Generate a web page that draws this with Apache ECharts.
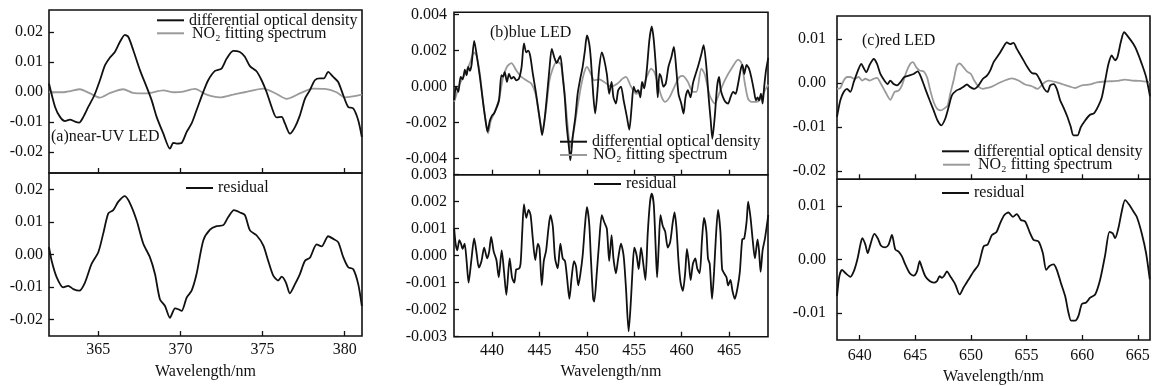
<!DOCTYPE html>
<html><head><meta charset="utf-8">
<script src="https://cdn.jsdelivr.net/npm/echarts@6/dist/echarts.min.js"></script>
<style>html,body{margin:0;padding:0;background:#fff}#c{width:1154px;height:386px}</style>
</head><body><div id="c"></div>
<script>
// ---------- DATA ([wavelength nm, value]) ----------
const aOD = [[362.0,0.0029],[362.37,-0.0049],[362.67,-0.0082],[362.97,-0.0096],[363.28,-0.0091],[363.58,-0.0098],[363.84,-0.0101],[364.09,-0.0082],[364.39,-0.0049],[364.76,-0.001],[365.1,0.004],[365.41,0.009],[365.71,0.0116],[366.01,0.0134],[366.32,0.0168],[366.62,0.0191],[366.83,0.0184],[367.13,0.014],[367.54,0.0073],[367.94,0.0018],[368.25,-0.0027],[368.55,-0.0082],[368.96,-0.0138],[369.36,-0.0188],[369.56,-0.0169],[369.77,-0.0171],[370.07,-0.0169],[370.38,-0.0132],[370.68,-0.0104],[370.98,-0.006],[371.39,0.0001],[371.69,0.004],[372.1,0.0071],[372.5,0.0079],[372.81,0.0112],[373.21,0.0138],[373.62,0.0134],[373.92,0.0118],[374.23,0.0087],[374.63,0.007],[374.94,0.004],[375.24,0.0001],[375.55,-0.0049],[375.85,-0.0084],[376.16,-0.0082],[376.36,-0.0104],[376.66,-0.0138],[376.97,-0.0116],[377.27,-0.0077],[377.58,-0.0021],[377.88,0.0007],[378.18,0.004],[378.49,0.0046],[378.73,0.0046],[378.99,0.0068],[379.3,0.0051],[379.6,0.0034],[379.91,-0.001],[380.21,-0.0049],[380.52,-0.0054],[380.82,-0.0093],[381.04,-0.0149]];
const aFit = [[362.0,0],[362.87,0],[363.3,0.0004],[363.88,0.001],[364.5,-0.0004],[365.1,-0.0018],[365.7,-0.0003],[366.52,0.001],[367.1,-0.0002],[367.94,-0.0004],[368.96,0.0006],[369.6,0.0],[370.17,0.0002],[370.88,0.0011],[371.6,-0.0008],[372.4,-0.0017],[373.2,-0.0008],[373.9,0.0],[375.04,0.0012],[375.8,-0.0004],[376.46,-0.0022],[377.3,-0.0003],[378.08,0.0012],[378.79,0.0011],[379.5,0.0],[380.01,-0.0017],[381.04,-0.0008]];
const aRes = [[362.0,0.0023],[362.16,-0.0019],[362.47,-0.007],[362.87,-0.0101],[363.17,-0.0096],[363.48,-0.0106],[363.84,-0.0111],[364.19,-0.0086],[364.59,-0.0029],[365.0,0.0007],[365.3,0.0064],[365.61,0.0126],[365.91,0.0136],[366.22,0.0162],[366.62,0.0179],[366.93,0.0157],[367.33,0.0105],[367.74,0.0033],[368.14,-0.0008],[368.45,-0.006],[368.75,-0.0137],[369.06,-0.0158],[369.36,-0.0194],[369.67,-0.0165],[369.87,-0.0168],[370.07,-0.0173],[370.38,-0.0132],[370.68,-0.0111],[370.98,-0.006],[371.39,0.0043],[371.8,0.0076],[372.2,0.0087],[372.61,0.009],[372.91,0.0115],[373.26,0.0136],[373.62,0.0129],[373.92,0.0121],[374.23,0.0074],[374.63,0.0059],[375.04,0.0028],[375.34,-0.0019],[375.65,-0.0065],[375.95,-0.008],[376.16,-0.0068],[376.42,-0.0086],[376.66,-0.0119],[376.97,-0.0091],[377.27,-0.006],[377.58,-0.0019],[377.88,-0.001],[378.29,0.0031],[378.59,0.0025],[378.99,0.0056],[379.3,0.0048],[379.6,0.0038],[379.91,-0.0008],[380.21,-0.0039],[380.52,-0.0045],[380.82,-0.0091],[381.04,-0.0158]];

const bOD = [[436.0,-0.00076],[436.19,0.0],[436.43,-0.0003],[436.68,0.00054],[436.89,0.0004],[437.13,0.00094],[437.31,0.00063],[437.48,0.0011],[437.66,0.00087],[437.83,0.0012],[438.11,0.00254],[438.36,0.0018],[438.71,0.00054],[439.06,-0.00094],[439.34,-0.002],[439.51,-0.0025],[439.76,-0.0019],[440.0,-0.0016],[440.2,-0.0015],[440.45,-0.0012],[440.73,-0.00076],[440.98,0.00063],[441.15,0.00055],[441.33,0.0008],[441.57,0.00026],[441.78,0.0007],[442.03,0.00044],[442.27,0.00054],[442.55,0.00035],[442.83,0.00044],[443.11,0.0011],[443.36,0.0024],[443.6,0.0019],[443.81,0.002],[444.02,0.0017],[444.3,0.0007],[444.58,-0.0002],[444.83,-0.0011],[445.07,-0.002],[445.28,-0.0027],[445.52,-0.0019],[445.77,-0.0006],[446.05,0.001],[446.29,0.0021],[446.57,0.0016],[446.82,0.0013],[446.99,0.0015],[447.2,0.0017],[447.45,0.00054],[447.66,-0.00057],[447.87,-0.0022],[448.15,-0.0036],[448.25,-0.0041],[448.5,-0.0028],[448.78,-0.0017],[449.02,-0.0004],[449.3,0.00045],[449.55,0.0011],[449.79,0.002],[450.0,0.00285],[450.24,0.0024],[450.42,0.0015],[450.66,-0.0004],[450.87,-0.0015],[451.12,-0.0002],[451.29,0.001],[451.57,0.0019],[451.82,0.0015],[452.1,0.0007],[452.35,-0.0004],[452.6,0.00026],[452.8,-0.0006],[453.06,-0.00094],[453.3,-0.0002],[453.59,0.0],[453.87,-0.00076],[454.22,-0.0017],[454.47,-0.0024],[454.72,-0.0011],[454.93,0.0],[455.18,-0.0003],[455.4,-0.0002],[455.64,-0.0006],[455.81,0.00026],[456.05,-0.0001],[456.31,0.0009],[456.59,0.0026],[456.84,0.00335],[457.05,0.0026],[457.3,0.0009],[457.47,-0.0006],[457.65,0.0007],[457.82,0.00055],[458.07,0.0],[458.32,0.00017],[458.6,0.0011],[458.89,0.0016],[459.17,0.0022],[459.42,0.001],[459.66,-0.0004],[459.95,-0.00094],[460.19,-0.0015],[460.4,-0.0006],[460.65,-0.0002],[460.93,-0.0006],[461.18,0.00017],[461.43,0.00063],[461.71,0.0011],[462.07,0.0018],[462.31,0.0023],[462.6,0.0011],[462.84,-0.0006],[463.06,-0.0019],[463.23,-0.0029],[463.48,-0.0017],[463.73,0.0],[463.94,0.00054],[464.12,-0.0002],[464.36,-0.0006],[464.61,-0.00085],[464.89,-0.00094],[465.14,-0.0006],[465.42,-0.0003],[465.68,-0.0004],[465.95,0.00017],[466.24,0.001],[466.41,0.0012],[466.59,0.0007],[466.84,0.0012],[467.1,0.001],[467.37,0.00044],[467.61,-0.0002],[467.83,-0.00076],[468.0,-0.0006],[468.15,-0.00076],[468.36,-0.0004],[468.53,-0.00094],[468.7,0.0],[468.89,0.0009],[469.13,0.0016]];
const bFit = [[436.0,-0.00085],[436.26,-0.0004],[436.6,0.00017],[437.13,0.0007],[437.66,0.0013],[438.08,0.0019],[438.36,0.0017],[438.71,0.0007],[439.06,-0.00094],[439.4,-0.0022],[439.58,-0.0026],[439.86,-0.0019],[440.28,-0.0014],[440.73,-0.0007],[441.15,0.0005],[441.57,0.0011],[442.03,0.0013],[442.55,0.0009],[443.08,0.00054],[443.6,0.00035],[444.13,0.00017],[444.58,-0.0004],[444.93,-0.0015],[445.28,-0.0024],[445.63,-0.0015],[446.05,0.00035],[446.4,0.001],[446.82,0.0014],[447.27,0.0012],[447.62,-0.0002],[447.97,-0.0022],[448.25,-0.0034],[448.57,-0.0026],[449.02,-0.0011],[449.37,0.0],[449.72,0.0008],[450.0,0.0011],[450.42,0.0007],[450.77,0.00035],[451.29,0.0004],[451.82,0.00026],[452.53,0.0],[453.23,0.00017],[453.76,0.00044],[454.12,0.00054],[454.65,0.0],[455.18,-0.0004],[455.71,-0.0002],[456.24,0.00044],[456.77,0.001],[457.12,0.0008],[457.47,0.00017],[457.9,-0.0006],[458.25,-0.00085],[458.71,-0.0006],[459.24,0.0],[459.77,0.00054],[460.12,0.0006],[460.65,0.00026],[461.18,-0.0003],[461.55,-0.0003],[462.07,0.001],[462.42,0.0007],[462.95,-0.0005],[463.48,-0.00094],[464.01,-0.0003],[464.54,0.00035],[465.25,0.001],[465.95,0.0015],[466.31,0.0013],[466.66,0.00017],[467.01,-0.0007],[467.37,-0.00085],[467.9,-0.00085],[468.43,-0.0006],[468.78,-0.0002],[469.13,0.0001]];
const bRes = [[436.0,0.001],[436.15,0.00045],[436.33,0.0002],[436.54,0.00058],[436.71,0.00045],[436.89,0.00025],[437.1,0.00045],[437.31,-0.0002],[437.52,-0.001],[437.8,-0.0002],[438.11,0.00064],[438.36,0.0001],[438.6,-0.00044],[438.88,-0.0002],[439.16,0.0003],[439.48,-0.0001],[439.69,0.00015],[439.9,0.0007],[440.17,0.00015],[440.45,-0.00015],[440.7,-0.0008],[441.01,0.0002],[441.26,-0.0006],[441.5,-0.00145],[441.85,-0.0001],[442.1,-0.0008],[442.34,-0.001],[442.55,-0.0005],[442.8,-0.00049],[443.0,-0.0003],[443.18,0.0009],[443.36,0.0019],[443.6,0.0014],[443.85,0.0017],[444.06,0.0015],[444.3,0.0006],[444.55,-0.00016],[444.83,0.00045],[445.0,0.00027],[445.24,-0.0011],[445.45,-0.0002],[445.7,0.0002],[445.94,0.001],[446.15,0.0015],[446.4,0.0011],[446.64,-0.0001],[446.92,-0.00047],[447.2,0.00045],[447.45,-0.0001],[447.69,-0.0002],[447.9,-0.0008],[448.15,-0.0016],[448.39,-0.0008],[448.64,-0.0002],[448.85,-0.0004],[449.09,-0.0011],[449.3,-0.0007],[449.55,0.0],[449.79,0.0011],[450.0,0.0018],[450.24,0.0012],[450.42,-0.0001],[450.66,-0.0016],[450.77,-0.0017],[451.05,-0.0006],[451.29,0.0005],[451.57,0.0015],[451.82,0.00125],[452.1,0.001],[452.35,-0.0002],[452.6,0.00076],[452.8,-0.0001],[453.06,-0.00065],[453.3,-0.0001],[453.59,0.00045],[453.87,0.0],[454.12,-0.0012],[454.4,-0.0028],[454.65,-0.0016],[454.82,-0.00047],[455.0,0.0003],[455.25,0.0],[455.46,-0.0005],[455.71,0.0003],[455.95,-0.0003],[456.17,-0.0009],[456.41,0.0008],[456.66,0.002],[456.84,0.0023],[457.05,0.0019],[457.23,0.0005],[457.4,-0.0008],[457.58,0.0004],[457.76,0.0015],[458.0,0.0011],[458.25,0.0009],[458.53,0.0003],[458.78,0.0005],[459.06,0.00125],[459.24,0.0016],[459.45,0.001],[459.66,-0.0002],[459.88,-0.001],[460.12,-0.0013],[460.37,-0.0006],[460.55,0.00025],[460.73,-0.0002],[460.94,-0.0009],[461.18,-0.0003],[461.43,-0.0001],[461.64,-0.00047],[461.89,-0.00065],[462.14,0.0006],[462.35,0.0014],[462.6,0.0009],[462.77,-0.0001],[462.95,-0.0003],[463.2,-0.0016],[463.41,-0.0006],[463.59,0.0006],[463.83,0.0017],[464.08,0.0009],[464.26,-0.0005],[464.47,-0.00065],[464.72,-0.0008],[464.89,-0.0011],[465.14,-0.0009],[465.35,-0.0013],[465.6,-0.0016],[465.88,-0.0012],[466.13,-0.0006],[466.38,0.0006],[466.59,0.00064],[466.84,0.00125],[467.01,0.002],[467.26,0.0014],[467.47,0.00064],[467.72,-0.0001],[468.0,0.0006],[468.15,0.0002],[468.32,-0.0006],[468.53,0.0002],[468.78,0.00064],[469.13,0.0015]];

const cOD = [[637.96,-0.0077],[638.26,-0.0039],[638.56,-0.002],[638.86,-0.0013],[639.16,-0.002],[639.46,0.0002],[639.91,0.0033],[640.15,0.0044],[640.35,0.0035],[640.6,0.0025],[640.9,0.0042],[641.26,0.0055],[641.56,0.0044],[641.86,0.0021],[642.22,0.0006],[642.51,-0.0002],[642.75,0.0006],[643.05,-0.0002],[643.35,-0.0005],[643.65,0.0002],[644.01,0.0014],[644.4,0.0017],[644.85,0.0021],[645.21,0.0027],[645.51,0.0014],[645.9,-0.0013],[646.29,-0.0039],[646.65,-0.0062],[647.0,-0.0085],[647.34,-0.0096],[647.69,-0.0081],[647.99,-0.0055],[648.29,-0.0028],[648.68,-0.0017],[649.04,-0.0013],[649.34,-0.0008],[649.64,-0.0003],[649.94,-0.0009],[650.3,-0.0013],[650.69,-0.0005],[651.08,0.001],[651.44,0.0017],[651.74,0.0029],[652.04,0.0048],[652.34,0.0059],[652.63,0.007],[652.93,0.0083],[653.23,0.0093],[653.53,0.0089],[653.83,0.0092],[654.13,0.0078],[654.43,0.0065],[654.73,0.0052],[655.09,0.0036],[655.48,0.0023],[655.87,0.0021],[656.23,0.0006],[656.59,-0.0013],[656.89,-0.002],[657.13,-0.0005],[657.43,-0.0002],[657.72,-0.0013],[658.02,-0.0039],[658.32,-0.0055],[658.68,-0.0077],[658.98,-0.01],[659.22,-0.0119],[659.58,-0.0119],[659.88,-0.01],[660.27,-0.0085],[660.66,-0.0073],[661.08,-0.0068],[661.47,-0.0051],[661.77,-0.0032],[662.07,0.0006],[662.37,0.0044],[662.66,0.0063],[662.96,0.0052],[663.17,0.0059],[663.47,0.0093],[663.77,0.0116],[664.16,0.0105],[664.61,0.0089],[664.91,0.0074],[665.36,0.0044],[665.75,0.0014],[666.1,-0.003]];
const cFit = [[637.96,-0.0013],[638.26,-0.0011],[638.56,0.0006],[638.86,0.0014],[639.16,0.0014],[639.52,0.001],[639.91,0.0014],[640.21,0.0006],[640.51,0.001],[640.9,0.0006],[641.26,0.001],[641.56,0.0012],[641.92,-0.0002],[642.31,-0.002],[642.75,-0.0038],[643.14,-0.002],[643.5,-0.0017],[643.8,-0.0005],[644.19,0.0025],[644.55,0.0044],[644.79,0.0048],[645.09,0.0036],[645.39,0.0029],[645.75,0.0027],[646.05,0.0014],[646.35,-0.0017],[646.65,-0.0043],[646.95,-0.0058],[647.25,-0.0062],[647.6,-0.0058],[647.9,-0.0051],[648.14,-0.0024],[648.44,0.0006],[648.74,0.004],[648.98,0.0045],[649.34,0.0036],[649.64,0.0027],[650.0,0.0021],[650.3,0.0006],[650.69,-0.0008],[651.08,-0.0013],[651.44,-0.0011],[651.89,-0.0008],[652.34,-0.0002],[652.93,0.0005],[653.68,0.0011],[654.28,0.0006],[654.88,-0.0003],[655.48,-0.0007],[655.99,-0.0013],[656.53,0.0],[656.98,0.0006],[657.72,0.0002],[658.32,-0.0003],[658.92,-0.0008],[659.37,-0.0011],[659.97,-0.0005],[660.72,-0.0003],[661.32,0.0002],[662.22,0.0004],[663.11,0.0005],[663.86,0.0008],[664.46,0.0006],[665.21,0.0005],[666.1,0.0002]];
const cRes = [[637.96,-0.0068],[638.17,-0.0031],[638.41,-0.0019],[638.71,-0.0025],[639.16,-0.0032],[639.52,-0.0019],[639.82,0.0003],[640.06,0.0028],[640.24,0.004],[640.51,0.0028],[640.72,0.0012],[640.96,0.0028],[641.32,0.0048],[641.62,0.004],[641.92,0.0026],[642.31,0.0023],[642.6,0.0028],[642.9,0.0046],[643.2,0.0019],[643.5,0.0015],[643.8,0.0006],[644.1,-0.0009],[644.49,-0.0025],[644.85,-0.003],[645.15,-0.0022],[645.39,-0.0003],[645.6,-0.0015],[645.9,-0.0031],[646.29,-0.004],[646.65,-0.0043],[646.95,-0.004],[647.19,-0.0031],[647.4,-0.0034],[647.6,-0.003],[647.84,-0.0022],[648.14,-0.0031],[648.59,-0.0046],[648.98,-0.0065],[649.34,-0.0052],[649.79,-0.0037],[650.24,-0.0022],[650.69,-0.0009],[651.14,0.0025],[651.5,0.0028],[651.89,0.0046],[652.28,0.0051],[652.63,0.0068],[652.99,0.0083],[653.38,0.0088],[653.77,0.008],[654.13,0.0085],[654.49,0.0074],[654.88,0.0071],[655.27,0.0052],[655.63,0.0037],[656.08,0.0034],[656.47,0.0012],[656.77,-0.0019],[657.07,-0.0012],[657.43,-0.0009],[657.72,-0.0019],[658.08,-0.0043],[658.47,-0.0068],[658.77,-0.0099],[659.01,-0.0114],[659.37,-0.0114],[659.67,-0.0105],[659.97,-0.0083],[660.36,-0.008],[660.72,-0.0071],[661.17,-0.0065],[661.62,-0.0037],[662.07,0.0009],[662.46,0.0052],[662.75,0.0049],[662.96,0.004],[663.26,0.0059],[663.56,0.009],[663.86,0.0111],[664.25,0.0102],[664.61,0.009],[664.91,0.008],[665.36,0.0049],[665.75,0.0012],[666.08,-0.0037]];

// tick values
const aXTicks = [365, 370, 375, 380];
const bXTicks = [440, 445, 450, 455, 460, 465];
const cXTicks = [640, 645, 650, 655, 660, 665];
const aTopYTicks = [-0.02, -0.01, 0, 0.01, 0.02];
const aBotYTicks = [-0.02, -0.01, 0, 0.01, 0.02];
const bTopYTicks = [-0.004, -0.002, 0, 0.002, 0.004];
const bBotYTicks = [-0.003, -0.002, -0.001, 0, 0.001, 0.002, 0.003];
const cTopYTicks = [-0.02, -0.01, 0, 0.01];
const cBotYTicks = [-0.01, 0, 0.01];

const NAME_OD = 'differential optical density';
const NAME_FIT = 'NO\u2082 fitting spectrum';
const NAME_RES = 'residual';

// ---------- LAYOUT / STYLE ----------
const FONT = 'Liberation Serif';
const BLACK = '#111';
const GRAY = '#9a9a9a';
const panels = [
  {left: 49, width: 313, top: [10, 173], h: [163, 163], x: [362, 381.05], xt: aXTicks,
   y: [[-0.0269, 0.0274], [-0.025, 0.025]], yt: [aTopYTicks, aBotYTicks], dec: 2, lm: 6, xm: 6,
   od: aOD, fit: aFit, res: aRes, nameGap: 28},
  {left: 454, width: 314, top: [12.3, 174.7], h: [162.4, 162], x: [435.98, 469.1], xt: bXTicks,
   y: [[-0.0049, 0.00413], [-0.003, 0.003]], yt: [bTopYTicks, bBotYTicks], dec: 3, lm: 7, xm: 6,
   od: bOD, fit: bFit, res: bRes, nameGap: 27},
  {left: 837, width: 313, top: [16, 179.3], h: [163.3, 161.7], x: [637.96, 666.1], xt: cXTicks,
   y: [[-0.0219, 0.0153], [-0.015, 0.015]], yt: [cTopYTicks, cBotYTicks], dec: 2, lm: 11, xm: 8,
   od: cOD, fit: cFit, res: cRes, nameGap: 29}
];

const grid = [], xAxis = [], yAxis = [], series = [];
panels.forEach((p, pi) => {
  for (let k = 0; k < 2; k++) {
    const gi = grid.length;
    grid.push({left: p.left, top: p.top[k], width: p.width, height: p.h[k], show: true,
      borderColor: BLACK, borderWidth: 1.6, containLabel: false});
    xAxis.push({type: 'value', gridIndex: gi, min: p.x[0], max: p.x[1], position: 'bottom',
      axisLine: {show: false, onZero: false}, splitLine: {show: false},
      axisTick: {show: true, inside: true, length: 5, customValues: p.xt, lineStyle: {color: BLACK, width: 1.3}},
      axisLabel: {show: k === 1, customValues: p.xt, margin: p.xm, fontFamily: FONT, fontSize: 16, color: BLACK,
        formatter: v => String(v)},
      name: k === 1 ? 'Wavelength/nm' : '', nameLocation: 'middle', nameGap: p.nameGap,
      nameTextStyle: {fontFamily: FONT, fontSize: 16, color: BLACK}});
    yAxis.push({type: 'value', gridIndex: gi, min: p.y[k][0], max: p.y[k][1], position: 'left',
      axisLine: {show: false, onZero: false}, splitLine: {show: false},
      axisTick: {show: true, inside: true, length: 5, customValues: p.yt[k], lineStyle: {color: BLACK, width: 1.3}},
      axisLabel: {show: true, customValues: p.yt[k], margin: p.lm, fontFamily: FONT, fontSize: 16, color: BLACK,
        formatter: v => (Math.abs(v) < 1e-12 ? 0 : v).toFixed(p.dec)}});
    const base = {type: 'line', xAxisIndex: gi, yAxisIndex: gi, showSymbol: false, symbol: 'none',
      smooth: 0.25, animation: false, silent: true, clip: true};
    if (k === 0) {
      series.push(Object.assign({}, base, {name: NAME_FIT, data: p.fit, color: GRAY, lineStyle: {color: GRAY, width: 1.8}, z: 2}));
      series.push(Object.assign({}, base, {name: NAME_OD, data: p.od, color: BLACK, lineStyle: {color: BLACK, width: 1.8}, z: 3}));
    } else {
      series.push(Object.assign({}, base, {name: NAME_RES, data: p.res, color: BLACK, lineStyle: {color: BLACK, width: 1.8}, z: 3}));
    }
  }
});

function leg(name, left, cy, extraPad) {
  return {data: [name], left: left, top: cy - 9, orient: 'horizontal', padding: 0,
    icon: 'rect', itemWidth: 27, itemHeight: 2, itemGap: 0, selectedMode: false,
    textStyle: {fontFamily: FONT, fontSize: 16, color: BLACK, padding: [0, 0, 0, extraPad || 0]}};
}
const legend = [
  leg(NAME_OD, 157, 21.3), leg(NAME_FIT, 157, 34.3, 3), leg(NAME_RES, 186, 189),
  leg(NAME_OD, 560, 142.7), leg(NAME_FIT, 560, 156, 1), leg(NAME_RES, 594, 185),
  leg(NAME_OD, 942, 152.3), leg(NAME_FIT, 943, 165.7, 3), leg(NAME_RES, 942, 194)
];

const tstyle = {fontFamily: FONT, fontSize: 16, fontWeight: 'normal', color: BLACK};
const title = [
  {text: '(a)near-UV LED', left: 51, top: 129, padding: 0, textStyle: tstyle},
  {text: '(b)blue LED', left: 490, top: 25, padding: 0, textStyle: tstyle},
  {text: '(c)red LED', left: 862, top: 33, padding: 0, textStyle: tstyle}
];

const chart = echarts.init(document.getElementById('c'), null, {renderer: 'canvas'});
chart.setOption({backgroundColor: '#fff', animation: false, title, legend, grid, xAxis, yAxis, series});
</script></body></html>
